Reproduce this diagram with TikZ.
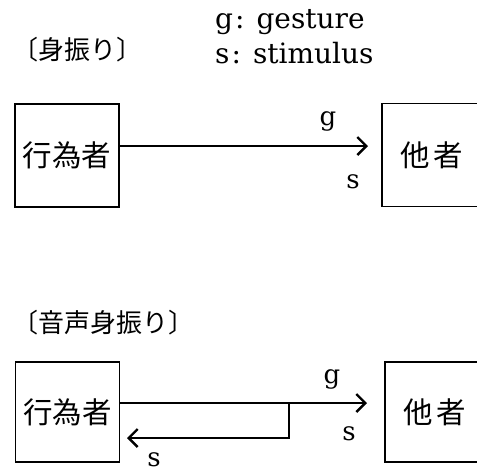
\documentclass[tikz,border=0pt]{standalone}
\usepackage{fontspec}
\setmainfont{DejaVu Serif}
\newfontfamily\cjk{Noto Sans CJK JP}
\usetikzlibrary{arrows.meta}
\begin{document}
\begin{tikzpicture}[x=1pt,y=-1pt,
  box/.style={draw,line width=1.9pt,minimum width=104pt,minimum height=103pt,inner sep=0pt,font=\cjk\fontsize{29.5pt}{32pt}\selectfont},
  lbl/.style={inner sep=0pt,anchor=base,font=\fontsize{26pt}{30pt}\selectfont},
  leg/.style={inner sep=0pt,anchor=base west,font=\fontsize{28pt}{31pt}\selectfont},
  ttl/.style={inner sep=0pt,anchor=west,font=\cjk\fontsize{26pt}{30pt}\selectfont},
  arr/.style={line width=2pt,-{Straight Barb[length=9pt,width=18pt,line width=2.4pt]}}]
\useasboundingbox (0,0) rectangle (477,472);
% legend
\node[leg] (leg1) at (215,28) {g\kern2pt:\hspace{12pt}gesture};
\node[leg] (leg2) at (215,63) {s\kern2pt:\hspace{12pt}stimulus};
% top
\node[ttl] (t1) at (12,50) {〔身振り〕};
\node[box] (a1) at (67,155.5) {行為者};
\node[box,minimum width=100pt] (b1) at (432,155) {他\hspace{4pt}者};
\coordinate (a1o) at (119,146);
\coordinate (b1i) at (368,146);
\draw[arr] (a1o) -- (b1i);
\node[lbl] (g1) at (328,125) {g};
\node[lbl] (s1) at (353,188) {s};
% bottom
\node[ttl] (t2) at (12,323) {〔音声身振り〕};
\node[box,minimum height=100pt] (a2) at (67.5,412) {行為者};
\node[box,minimum width=100pt,minimum height=100pt] (b2) at (435,412) {他\hspace{4pt}者};
\coordinate (a2o) at (119,403);
\coordinate (b2i) at (367,403);
\coordinate (j) at (289,403);
\coordinate (jd) at (289,438);
\coordinate (ret) at (127,438);
\draw[arr] (a2o) -- (b2i);
\draw[arr] (j) -- (jd) -- (ret);
\node[lbl] (g2) at (332,383) {g};
\node[lbl] (s2) at (349,440) {s};
\node[lbl] (s3) at (154,466) {s};
\end{tikzpicture}
\end{document}
